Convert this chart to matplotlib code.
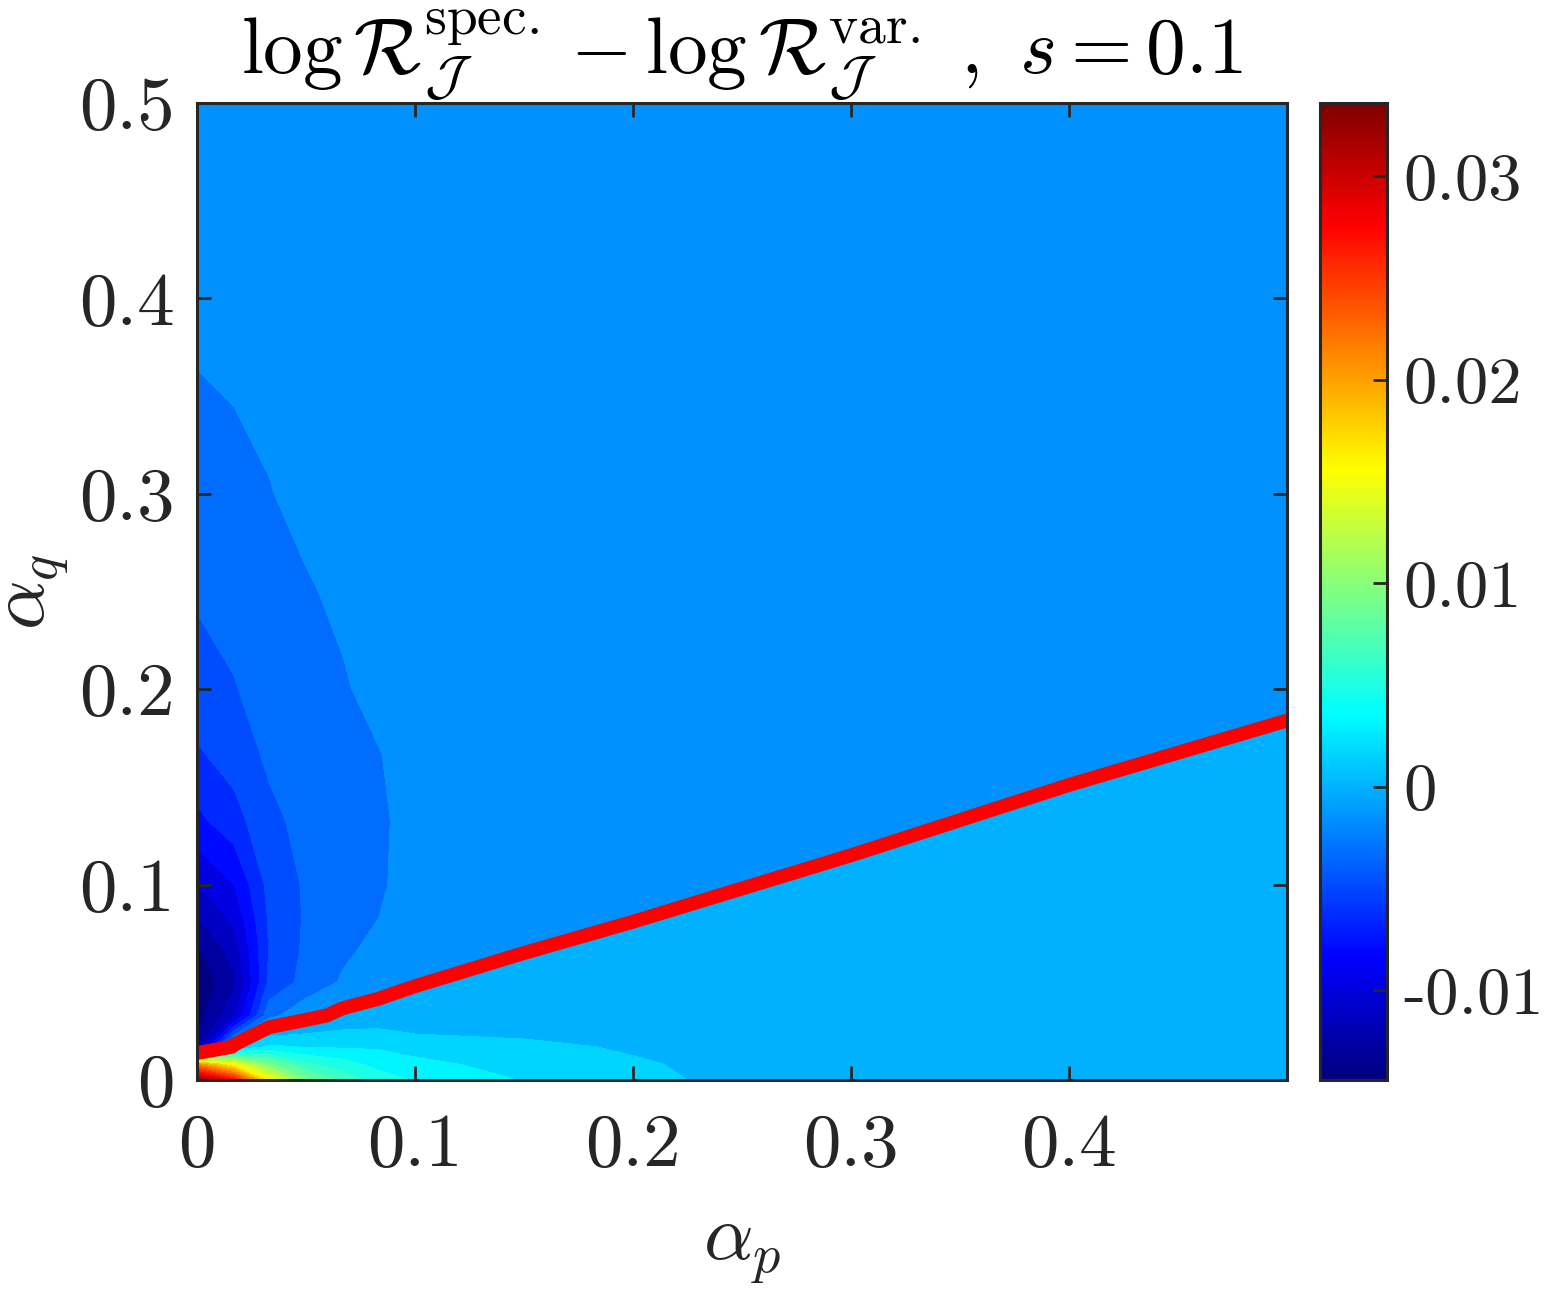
import numpy as np
import matplotlib
matplotlib.use("Agg")
import matplotlib.pyplot as plt
from matplotlib.colors import LinearSegmentedColormap, Normalize
from matplotlib.cm import ScalarMappable

plt.rcParams['mathtext.fontset'] = 'cm'
plt.rcParams['font.family'] = ['serif']
plt.rcParams['font.serif'] = ['cmr10', 'DejaVu Serif']
plt.rcParams['axes.formatter.use_mathtext'] = True

# grid
alpha_p = [0, 0.017, 0.033, 0.05, 0.067, 0.083, 0.1, 0.15, 0.2, 0.3, 0.4, 0.5]
alpha_q = [0, 0.008, 0.017, 0.033, 0.05, 0.067, 0.083, 0.1, 0.133, 0.167, 0.2, 0.25, 0.3, 0.4, 0.5]

# log R_spec - log R_var, one list per alpha_p column (values along alpha_q)
col_000 = [0.0335, 0.022, -0.012, -0.0135, -0.0143, -0.0130, -0.0112, -0.0096, -0.0068, -0.0050, -0.0039, -0.0030, -0.0023, -0.0012, -0.0008]
col_017 = [0.028, 0.016, 0.0007, -0.010, -0.0115, -0.0105, -0.0092, -0.0080, -0.0054, -0.0041, -0.0033, -0.0026, -0.0020, -0.0011, -0.0009]
col_033 = [0.0165, 0.0100, 0.0035, -0.0021, -0.0045, -0.0047, -0.0046, -0.0043, -0.0036, -0.0029, -0.0025, -0.0021, -0.00165, -0.0011, -0.0009]
col_050 = [0.0100, 0.0068, 0.0031, -0.0005, -0.0026, -0.0029, -0.0030, -0.0030, -0.0027, -0.0023, -0.0020, -0.0017, -0.0013, -0.0010, -0.0008]
col_067 = [0.0075, 0.0055, 0.0030, 0.0004, -0.0014, -0.0019, -0.0021, -0.0022, -0.0021, -0.0019, -0.0017, -0.0014, -0.0012, -0.0010, -0.0009]
col_083 = [0.0056, 0.0043, 0.0030, 0.0006, -0.0006, -0.0012, -0.00162, -0.0018, -0.0018, -0.00165, -0.0013, -0.0012, -0.0011, -0.0010, -0.0009]
col_100 = [0.0047, 0.0037, 0.0025, 0.0003, -0.00004, -0.00038, -0.0007, -0.00104, -0.0012, -0.0012, -0.0012, -0.0012, -0.0011, -0.0010, -0.0009]
col_150 = [0.0031, 0.0025, 0.0018, 0.0010, 0.0003, -0.00004, -0.00036, -0.0007, -0.0012, -0.0012, -0.0012, -0.0012, -0.0011, -0.0010, -0.0009]
col_200 = [0.0018, 0.0017, 0.0015, 0.00096, 0.00062, 0.00028, -0.00004, -0.00038, -0.00104, -0.0012, -0.0012, -0.0012, -0.0011, -0.0010, -0.0009]
col_300 = [0.0010, 0.0010, 0.0010, 0.0012, 0.0012, 0.00096, 0.00064, 0.0003, -0.00036, -0.00104, -0.0012, -0.0012, -0.0011, -0.0010, -0.0009]
col_400 = [0.0010, 0.0010, 0.0010, 0.0011, 0.0012, 0.0012, 0.0012, 0.00102, 0.00036, -0.00032, -0.00098, -0.0012, -0.0011, -0.0010, -0.0009]
col_500 = [0.0009, 0.0009, 0.0010, 0.0010, 0.0011, 0.0012, 0.0012, 0.0012, 0.00102, 0.00034, -0.00032, -0.0012, -0.0011, -0.0010, -0.0009]

cbar_ticks = [-0.01, 0, 0.01, 0.02, 0.03]
cbar_labels = ['-0.01', '0', '0.01', '0.02', '0.03']
x_ticks = [0, 0.1, 0.2, 0.3, 0.4]
x_labels = ['0', '0.1', '0.2', '0.3', '0.4']
y_ticks = [0, 0.1, 0.2, 0.3, 0.4, 0.5]
y_labels = ['0', '0.1', '0.2', '0.3', '0.4', '0.5']

Z = np.array([col_000, col_017, col_033, col_050, col_067, col_083, col_100,
              col_150, col_200, col_300, col_400, col_500]).T
X, Y = np.meshgrid(alpha_p, alpha_q)

vmin, vmax = -0.0144, 0.0336
levels = np.linspace(vmin, vmax, 31)

# matlab style jet
jet = LinearSegmentedColormap.from_list('mjet', [
    (0.0, (0, 0, 0.5)), (0.125, (0, 0, 1)), (0.375, (0, 1, 1)),
    (0.625, (1, 1, 0)), (0.875, (1, 0, 0)), (1.0, (0.5, 0, 0))], N=256)
band_colors = [jet((l - vmin) / (vmax - vmin)) for l in levels[:-1]]

dark = (0.15, 0.15, 0.15)
fig = plt.figure(figsize=(15.47, 12.92), dpi=100)
ax = fig.add_axes([197/1547, 1 - 1080/1292, 1090/1547, 977/1292])
ax.contourf(X, Y, Z, levels=levels, colors=band_colors, antialiased=False)
ax.contour(X, Y, Z, levels=[0], colors='red', linewidths=10)

ax.set_xlim(0, 0.5)
ax.set_ylim(0, 0.5)
ax.set_xticks(x_ticks)
ax.set_xticklabels(x_labels)
ax.set_yticks(y_ticks)
ax.set_yticklabels(y_labels)
ax.tick_params(direction='in', top=True, right=True, length=10, width=2,
               color=dark, labelsize=54, labelcolor=dark)
ax.tick_params(axis='x', pad=24)
ax.tick_params(axis='y', pad=16)
for sp in ax.spines.values():
    sp.set_color(dark)
    sp.set_linewidth(2.2)

ax.set_xlabel(r'$\alpha_p$', fontsize=56, color=dark, labelpad=26)
ax.set_ylabel(r'$\alpha_q$', fontsize=56, color=dark, labelpad=6)
ax.set_title(r'$\log\mathcal{R}^{\mathrm{spec.}}_{\mathcal{J}} - \log\mathcal{R}^{\mathrm{var.}}_{\mathcal{J}}\ ,\ s = 0.1$',
             fontsize=57, color='black', pad=20)

cax = fig.add_axes([1320/1547, 1 - 1080/1292, 67/1547, 977/1292])
sm = ScalarMappable(norm=Normalize(vmin, vmax), cmap=jet)
cb = fig.colorbar(sm, cax=cax)
cb.set_ticks(cbar_ticks)
cb.set_ticklabels(cbar_labels)
cax.tick_params(direction='in', length=10, width=2, color=dark,
                labelsize=48, labelcolor=dark, pad=12)
cb.outline.set_edgecolor(dark)
cb.outline.set_linewidth(2.2)

fig.savefig('out.png', dpi=100)
